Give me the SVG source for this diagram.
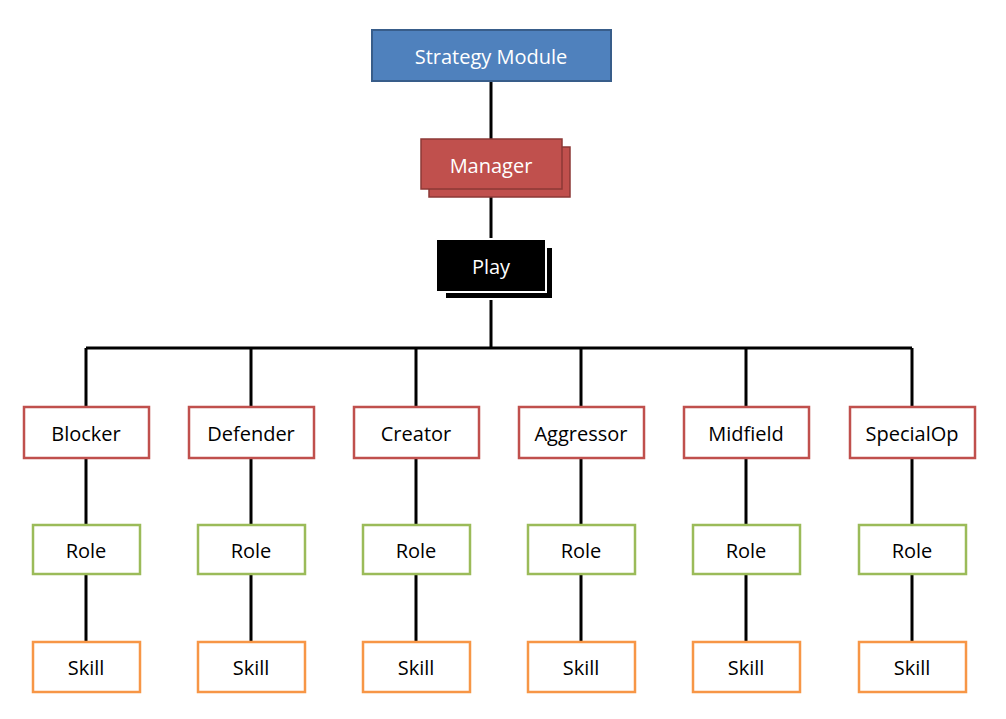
<svg xmlns="http://www.w3.org/2000/svg" width="1006" height="719" viewBox="0 0 1006 719">
<style>
text{font-family:"Open Sans","Liberation Sans",sans-serif;font-size:20px;text-anchor:middle;dominant-baseline:central}
.l{stroke:#000;stroke-width:3;fill:none}
.r{fill:#fff;stroke:#c0504d;stroke-width:2.5}
.g{fill:#fff;stroke:#9bbb59;stroke-width:2.5}
.o{fill:#fff;stroke:#f79646;stroke-width:2.5}
.w{fill:#fff}
</style>
<rect width="1006" height="719" fill="#fff"/>
<g id="connectors">
<path class="l" d="M491 81V139M491 189V241M491 296V348M86 348H912M86 348V407M251 348V407M416 348V407M581 348V407M746 348V407M912 348V407"/>
<path class="l" d="M86 458V525M86 574V642M251 458V525M251 574V642M416 458V525M416 574V642M581 458V525M581 574V642M746 458V525M746 574V642M912 458V525M912 574V642"/>
</g>
<g id="strategy"><rect x="372" y="30" width="239" height="51" fill="#4f81bd" stroke="#385d8a" stroke-width="2"/><text x="491" y="56" fill="#fff">Strategy Module</text></g>
<g id="manager"><rect x="429" y="147" width="141" height="50" fill="#c0504d" stroke="#8c3836" stroke-width="1.5"/><rect x="421" y="139" width="141" height="50" fill="#c0504d" stroke="#8c3836" stroke-width="1.5"/><text x="491" y="165" fill="#fff">Manager</text></g>
<g id="play"><rect x="445" y="247" width="108" height="52" fill="#000" stroke="#fff" stroke-width="2"/><rect x="436" y="239" width="110" height="53" fill="#000" stroke="#fff" stroke-width="2"/><text x="491" y="266" fill="#fff">Play</text></g>
<g id="blocker"><rect class="r" x="24" y="407" width="125" height="51"/><text x="86" y="433">Blocker</text></g>
<g id="defender"><rect class="r" x="189" y="407" width="125" height="51"/><text x="251" y="433">Defender</text></g>
<g id="creator"><rect class="r" x="354" y="407" width="125" height="51"/><text x="416" y="433">Creator</text></g>
<g id="aggressor"><rect class="r" x="519" y="407" width="125" height="51"/><text x="581" y="433">Aggressor</text></g>
<g id="midfield"><rect class="r" x="684" y="407" width="125" height="51"/><text x="746" y="433">Midfield</text></g>
<g id="specialop"><rect class="r" x="850" y="407" width="125" height="51"/><text x="912" y="433">SpecialOp</text></g>
<g id="role1"><rect class="g" x="33" y="525" width="107" height="49"/><text x="86" y="550">Role</text></g>
<g id="role2"><rect class="g" x="198" y="525" width="107" height="49"/><text x="251" y="550">Role</text></g>
<g id="role3"><rect class="g" x="363" y="525" width="107" height="49"/><text x="416" y="550">Role</text></g>
<g id="role4"><rect class="g" x="528" y="525" width="107" height="49"/><text x="581" y="550">Role</text></g>
<g id="role5"><rect class="g" x="693" y="525" width="107" height="49"/><text x="746" y="550">Role</text></g>
<g id="role6"><rect class="g" x="859" y="525" width="107" height="49"/><text x="912" y="550">Role</text></g>
<g id="skill1"><rect class="o" x="33" y="642" width="107" height="50"/><text x="86" y="667">Skill</text></g>
<g id="skill2"><rect class="o" x="198" y="642" width="107" height="50"/><text x="251" y="667">Skill</text></g>
<g id="skill3"><rect class="o" x="363" y="642" width="107" height="50"/><text x="416" y="667">Skill</text></g>
<g id="skill4"><rect class="o" x="528" y="642" width="107" height="50"/><text x="581" y="667">Skill</text></g>
<g id="skill5"><rect class="o" x="693" y="642" width="107" height="50"/><text x="746" y="667">Skill</text></g>
<g id="skill6"><rect class="o" x="859" y="642" width="107" height="50"/><text x="912" y="667">Skill</text></g>
</svg>
